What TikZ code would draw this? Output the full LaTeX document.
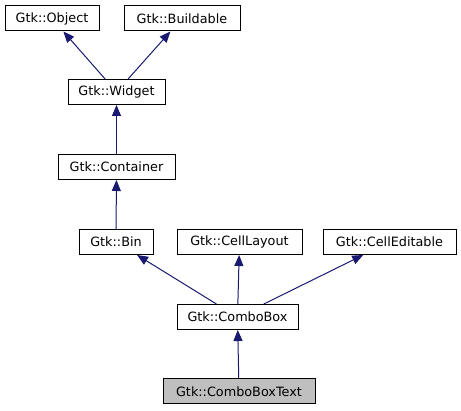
\documentclass[tikz,border=0pt]{standalone}
\usepackage{fontspec}
\setmainfont{DejaVu Sans}
\usetikzlibrary{arrows.meta}
\definecolor{edgeblue}{HTML}{191970}
\definecolor{hilite}{HTML}{BFBFBF}
\begin{document}
\begin{tikzpicture}[x=1pt,y=-1pt,
  cls/.style={draw=black,line width=1pt,fill=white,inner sep=0pt,minimum height=25pt,
    font=\fontsize{12.8}{15}\selectfont},
  inh/.style={draw=edgeblue,line width=1pt,-{Triangle[length=11pt,width=9pt]}}]
 \useasboundingbox (0,0) rectangle (461,411);
 \node[cls,minimum width=94pt] (obj) at (52,18.5) {Gtk::Object};
 \node[cls,minimum width=116pt] (build) at (182,18.5) {Gtk::Buildable};
 \node[cls,minimum width=97pt] (widget) at (116.5,92) {Gtk::Widget};
 \node[cls,minimum width=117pt] (cont) at (116.5,167) {Gtk::Container};
 \node[cls,minimum width=74pt] (bin) at (116,242) {Gtk::Bin};
 \node[cls,minimum width=125pt] (layout) at (239.5,242) {Gtk::CellLayout};
 \node[cls,minimum width=133pt] (edit) at (389.5,242) {Gtk::CellEditable};
 \node[cls,minimum width=121pt] (combo) at (237.5,317) {Gtk::ComboBox};
 \node[cls,minimum width=152pt,fill=hilite] (text) at (239,391.5) {Gtk::ComboBoxText};
 \foreach \a/\b in {widget/obj,widget/build,cont/widget,bin/cont,combo/bin,combo/layout,combo/edit,text/combo}
   \draw[inh] (\a) -- (\b);
\end{tikzpicture}
\end{document}
